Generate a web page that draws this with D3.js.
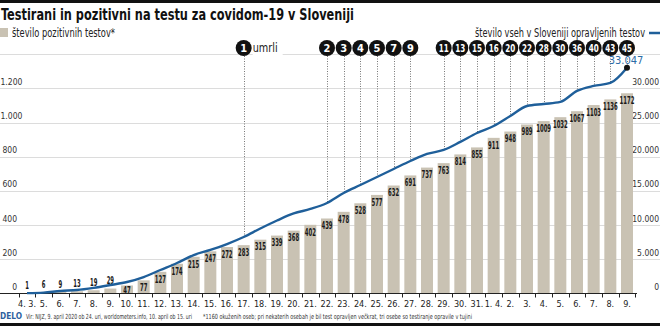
<!DOCTYPE html>
<html><head><meta charset="utf-8">
<script src="https://cdn.jsdelivr.net/npm/d3@7/dist/d3.min.js"></script>
<style>
body{margin:0;background:#fff;}
svg{display:block;}
text{font-family:"Liberation Sans Narrow","DejaVu Sans Condensed","Arial Narrow",sans-serif;}
</style></head><body>
<svg id="c" width="660" height="326"></svg>
<script>
const dates = ["4. 3.","5.","6.","7.","8.","9.","10.","11.","12.","13.","14.","15.","16.","17.","18.","19.","20.","21.","22.","23.","24.","25.","26.","27.","28.","29.","30.","31.","1. 4.","2.","3.","4.","5.","6.","7.","8.","9."];
const positives = [1,6,9,13,19,29,47,77,127,174,215,247,272,283,315,339,368,402,439,478,528,577,632,691,737,763,814,855,911,948,989,1009,1032,1067,1103,1136,1172];
const tests = [50,130,370,510,830,1240,1680,2410,3440,4460,5630,6370,7240,8270,9510,10680,11710,12370,13240,14710,15880,17050,18220,19390,20420,21000,22180,23490,24510,25980,27440,27730,28030,29640,30370,30810,33047];
const deaths = [null,null,null,null,null,null,null,null,null,null,null,null,null,1,null,null,null,null,2,3,4,5,7,9,null,11,13,15,16,20,22,28,30,36,40,43,45];
const leftTicks = [0,200,400,600,800,1000,1200];
const rightTicks = [0,5000,10000,15000,20000,25000,30000];
const gridTicks = [0,200,400,600,800,1000,1200,1400];

const title = "Testirani in pozitivni na testu za covidom-19 v Sloveniji";
const legendBars = "število pozitivnih testov*";
const legendLine = "število vseh v Sloveniji opravljenih testov";
const deathLabel = "umrli";
const source = "Vir: NIJZ, 9. april 2020 ob 24. uri, worldometers.info, 10. april ob 15. uri";
const note = "*1160 okuženih oseb; pri nekaterih osebah je bil test opravljen večkrat, tri osebe so testiranje opravile v tujini";

const BAR = "#c9c2b3", BLUE = "#1f5f9a", GRID = "#dcdcdc";
const loc = d3.formatLocale({decimal:",", thousands:".", grouping:[3], currency:["","€"]});
const fmt = loc.format(",");

const svg = d3.select("#c");
const W = 660, H = 326;
svg.append("rect").attr("width",W).attr("height",H).attr("fill","#fff");

const idx = d3.range(dates.length);
const x = d3.scaleBand().domain(idx).range([18.67, 635.33]).paddingInner(0.28).paddingOuter(0.14);
const y = d3.scaleLinear().domain([0,1400]).range([293.5, 54.3]);
const yR = d3.scaleLinear().domain([0,35000]).range([293.5, 54.3]);
const cx = i => x(i) + x.bandwidth()/2;
const step = x.step();

// top/bottom rules
svg.append("rect").attr("x",0).attr("y",0).attr("width",W).attr("height",3).attr("fill","#111");
svg.append("rect").attr("x",0).attr("y",323).attr("width",W).attr("height",3).attr("fill","#111");

// title
svg.append("text").attr("x",1).attr("y",20).attr("font-size",16.5).attr("font-weight","bold")
  .attr("fill","#111").attr("textLength",353).attr("lengthAdjust","spacingAndGlyphs").text(title);

// legend left
svg.append("rect").attr("x",0).attr("y",28).attr("width",8).attr("height",9).attr("fill",BAR);
svg.append("text").attr("x",12).attr("y",36.5).attr("font-size",11.5).attr("fill","#222")
  .attr("textLength",103).attr("lengthAdjust","spacingAndGlyphs").text(legendBars);
// legend right
svg.append("text").attr("x",645).attr("y",36.5).attr("font-size",11.5).attr("fill","#222")
  .attr("text-anchor","end").attr("textLength",170).attr("lengthAdjust","spacingAndGlyphs").text(legendLine);
svg.append("line").attr("x1",649).attr("x2",660).attr("y1",33).attr("y2",33).attr("stroke",BLUE).attr("stroke-width",2.5);

// gridlines
svg.append("g").selectAll("line").data(gridTicks.filter(d=>d>0)).join("line")
  .attr("x1",0).attr("x2",W).attr("y1",d=>Math.round(y(d))+0.5).attr("y2",d=>Math.round(y(d))+0.5)
  .attr("stroke",GRID).attr("stroke-width",1.2);

// left axis labels
svg.append("g").selectAll("text").data(leftTicks).join("text")
  .attr("x",d=> d>=1000 ? 0.5 : 17).attr("y",d=>y(d)-3.5)
  .attr("text-anchor",d=> d>=1000 ? "start" : "end").attr("font-size",8.5).attr("fill","#333")
  .text(d=>fmt(d));
// right axis labels
svg.append("g").selectAll("text").data(rightTicks).join("text")
  .attr("x",659).attr("y",d=>yR(d)-3.5).attr("text-anchor","end").attr("font-size",8.5).attr("fill","#333")
  .text(d=>fmt(d));

// bars
svg.append("g").selectAll("rect").data(positives).join("rect")
  .attr("x",(d,i)=>x(i)).attr("width",x.bandwidth())
  .attr("y",d=>y(d)).attr("height",d=>y(0)-y(d)).attr("fill",BAR);

// bar labels
svg.append("g").selectAll("text").data(positives).join("text")
  .attr("x",(d,i)=>cx(i)).attr("y",d=>{
      const top=y(d); let c = d<40 ? top-8 : Math.min(top+7, 290);
      return c+3.8;})
  .attr("text-anchor","middle").attr("font-size",11).attr("font-weight","bold").attr("fill","#1a1a1a")
  .attr("textLength",d=>String(d).length*3.7).attr("lengthAdjust","spacingAndGlyphs")
  .text(d=>d);

// x axis baseline + ticks
svg.append("line").attr("x1",0).attr("x2",637).attr("y1",293.5).attr("y2",293.5).attr("stroke","#222").attr("stroke-width",1);
const bounds = idx.map(i=>Math.round(cx(i)-step/2)+0.5).concat([Math.round(cx(idx.length-1)+step/2)+0.5]);
svg.append("g").selectAll("line").data(bounds).join("line")
  .attr("x1",d=>d).attr("x2",d=>d).attr("y1",293.5).attr("y2",297.5).attr("stroke","#222").attr("stroke-width",1);
svg.append("g").selectAll("text").data(dates).join("text")
  .attr("x",(d,i)=>cx(i)).attr("y",307).attr("text-anchor","middle").attr("font-size",9).attr("fill","#222")
  .text(d=>d);

// dotted death lines
const dIdx = deaths.map((d,i)=>d==null?null:i).filter(i=>i!=null);
svg.append("g").selectAll("line").data(dIdx).join("line")
  .attr("x1",i=>Math.round(cx(i))+0.5).attr("x2",i=>Math.round(cx(i))+0.5)
  .attr("y1",56).attr("y2",i=>yR(tests[i]))
  .attr("stroke","#777").attr("stroke-width",1).attr("stroke-dasharray","1,1.5");

// tests line
const line = d3.line().x((d,i)=>cx(i)).y(d=>yR(d)).curve(d3.curveMonotoneX);
svg.append("path").datum(tests).attr("d",line).attr("fill","none").attr("stroke",BLUE).attr("stroke-width",2.4);
const li = tests.length-1;
svg.append("circle").attr("cx",cx(li)).attr("cy",yR(tests[li])).attr("r",3).attr("fill","#111");
svg.append("text").attr("x",cx(li)-1).attr("y",yR(tests[li])-4).attr("text-anchor","middle")
  .attr("font-size",11).attr("fill","#2c6ca6").text(fmt(tests[li]));

// death markers
const mk = svg.append("g").selectAll("g").data(dIdx).join("g")
  .attr("transform",i=>`translate(${cx(i)},48)`);
mk.append("circle").attr("r",8).attr("fill","#111");
mk.append("text").attr("y",4).attr("text-anchor","middle").attr("font-size",11).attr("font-weight","bold")
  .attr("fill","#fff")
  .each(function(i){ const s=String(deaths[i]); const t=d3.select(this).text(s);
     if(s.length>1) t.attr("textLength",10).attr("lengthAdjust","spacingAndGlyphs"); });
// "umrli" label
const first = dIdx[0];
svg.append("rect").attr("x",cx(first)+9).attr("y",42).attr("width",30).attr("height",13).attr("fill","#fff");
svg.append("text").attr("x",cx(first)+9).attr("y",52).attr("font-size",12).attr("fill","#222")
  .attr("textLength",25).attr("lengthAdjust","spacingAndGlyphs").text(deathLabel);

// footer
svg.append("text").attr("x",0).attr("y",319).attr("font-family","Liberation Serif, serif").attr("font-size",9)
  .attr("font-weight","bold").attr("fill","#2d5f9e").attr("textLength",22).attr("lengthAdjust","spacingAndGlyphs").text("DELO");
svg.append("text").attr("x",26).attr("y",318.5).attr("font-size",7).attr("fill","#333")
  .attr("textLength",166).attr("lengthAdjust","spacingAndGlyphs").text(source);
svg.append("text").attr("x",203).attr("y",318.5).attr("font-size",7).attr("fill","#333")
  .attr("textLength",269).attr("lengthAdjust","spacingAndGlyphs").text(note);
</script>
</body></html>
